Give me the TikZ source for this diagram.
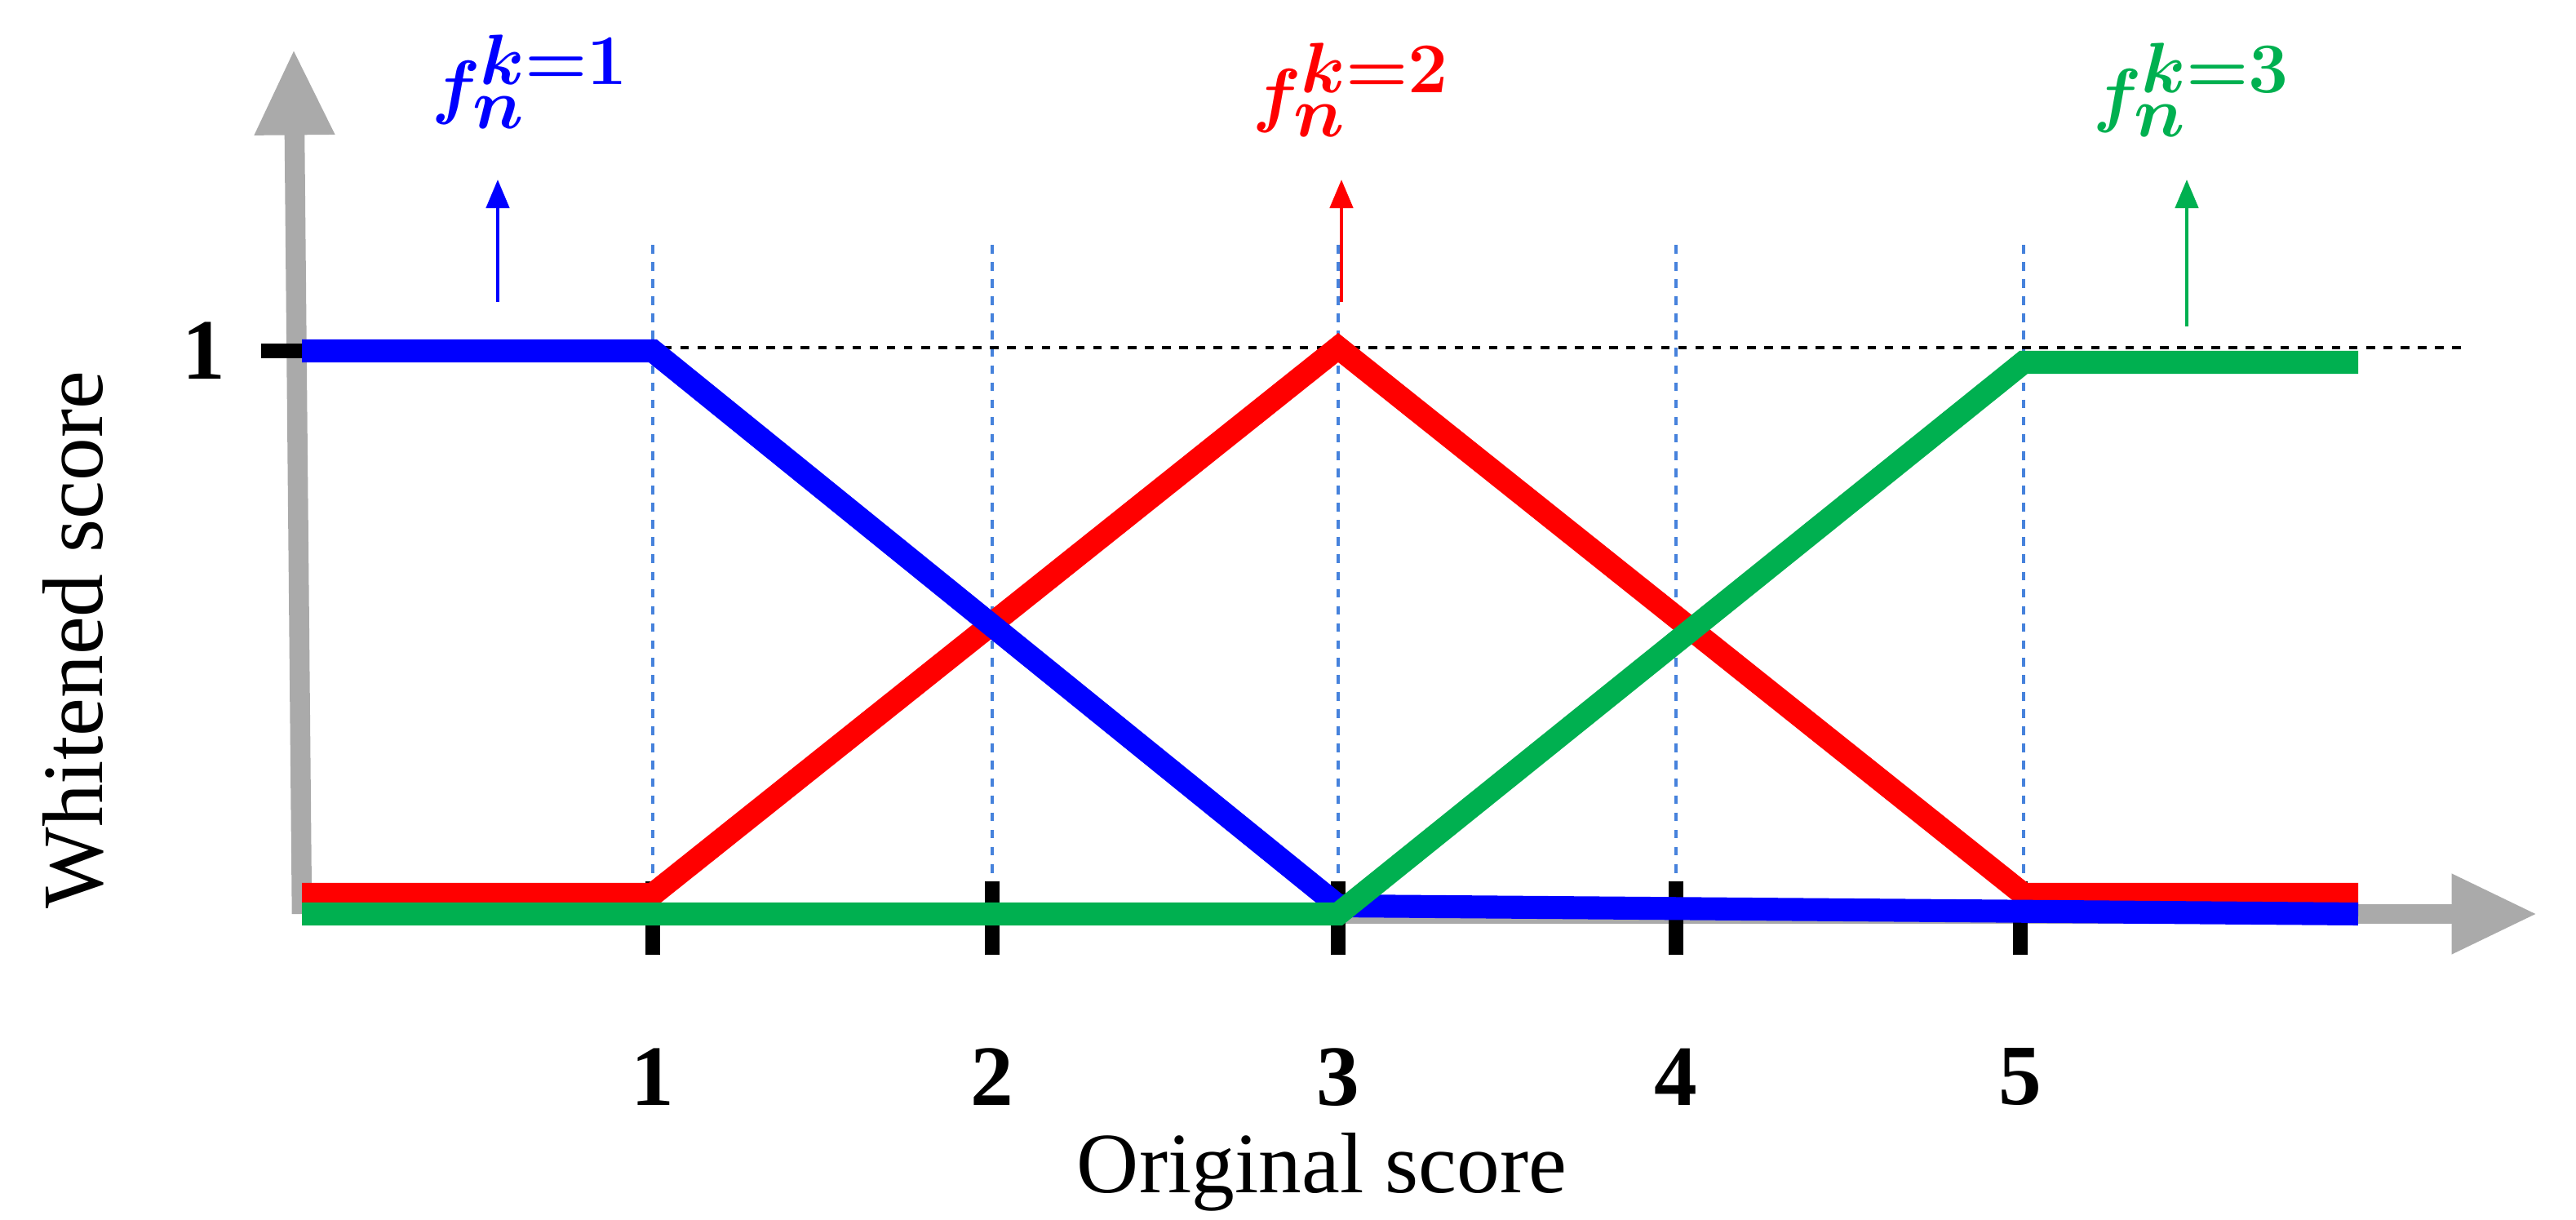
\documentclass[tikz,border=0pt]{standalone}
\usepackage{fontspec}
\setmainfont{Liberation Serif}
\usepackage{amsmath,bm}
\usetikzlibrary{arrows.meta}
\definecolor{cblue}{RGB}{0,0,255}
\definecolor{cred}{RGB}{255,0,0}
\definecolor{cgreen}{RGB}{0,176,80}
\definecolor{axgray}{RGB}{170,170,170}
\definecolor{dblue}{RGB}{70,130,220}
\begin{document}
\begin{tikzpicture}[x=0.02cm,y=-0.02cm,
  axis/.style={axgray,line width=7pt,-{Triangle[length=30pt,width=26pt]}},
  curve/.style={line width=8pt},
  tickmark/.style={black,line width=5pt},
  guide/.style={dblue,dashed,line width=1.1pt},
  lbl/.style={font=\fontsize{30}{36}\selectfont},
  ticklbl/.style={font=\fontsize{30}{36}\selectfont\bfseries},
  flbl/.style={font=\fontsize{40}{48}\selectfont},
  uparrow/.style={line width=1.3pt,-{Triangle[length=10pt,width=8pt]}}]
\useasboundingbox (0,0) rectangle (1578.5,747.5);
% guides
\foreach \x in {400,608,820,1027,1240} \draw[guide] (\x,150) -- (\x,555);
\draw[black,dashed,line width=1.1pt] (185,213) -- (1510,213);
% axes
\coordinate (o) at (185,560);
\coordinate (ytop) at (180,30);
\coordinate (xend) at (1555,560);
\draw[axis] (o) -- (ytop);
\draw[axis] (o) -- (xend);
% ticks
\draw[tickmark] (160,215) -- (185,215);
\foreach \x/\t in {400/1,608/2,820/3,1027/4,1238/5}{
  \draw[tickmark] (\x,540) -- (\x,585);
  \node[ticklbl] (t\t) at (\x,660) {\t};}
\node[ticklbl] (one) at (125,215) {1};
\node[lbl] (xl) at (810,718) {Original score};
\node[lbl,rotate=90] (yl) at (45,392) {Whitened score};
% curves
\draw[curve,cred] (185,548) -- (400,548) -- (820,213) -- (1240,548) -- (1445,548);
\draw[curve,cblue] (185,215) -- (400,215) -- (820,555) -- (1445,560);
\draw[curve,cgreen] (185,560) -- (820,560) -- (1240,222) -- (1445,222);
% arrows and labels
\coordinate (a1) at (305,185); \coordinate (b1) at (305,110);
\coordinate (a2) at (822,185); \coordinate (b2) at (822,110);
\coordinate (a3) at (1340,200); \coordinate (b3) at (1340,110);
\draw[uparrow,cblue] (a1) -- (b1);
\draw[uparrow,cred] (a2) -- (b2);
\draw[uparrow,cgreen] (a3) -- (b3);
\node[flbl,cblue] (f1) at (325,50) {$\bm{f_n^{k=1}}$};
\node[flbl,cred] (f2) at (828,55) {$\bm{f_n^{k=2}}$};
\node[flbl,cgreen] (f3) at (1343,55) {$\bm{f_n^{k=3}}$};
\end{tikzpicture}
\end{document}
